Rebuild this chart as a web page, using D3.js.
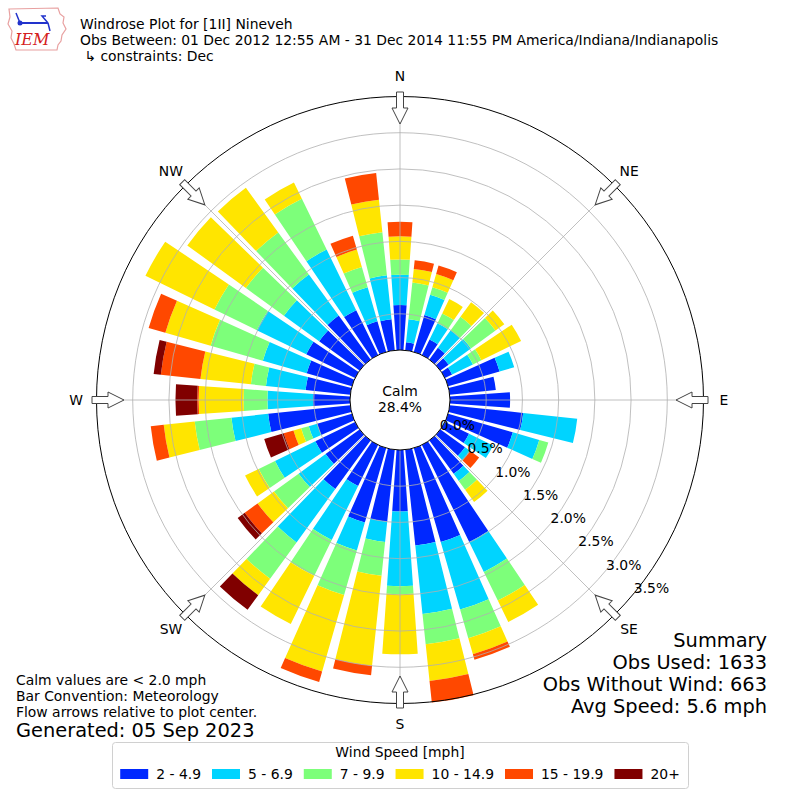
<!DOCTYPE html>
<html>
<head>
<meta charset="utf-8">
<script src="https://cdn.jsdelivr.net/npm/d3@7/dist/d3.min.js"></script>
<style>
  body { margin: 0; background: #fff; }
  text { font-family: "DejaVu Sans", sans-serif; fill: #000; }
</style>
</head>
<body>
<svg id="chart" width="800" height="800"></svg>
<script>
// wind directions (deg, meteorological) and frequency per speed bin (%)
const directions = d3.range(0, 360, 10);
const speedBins = ["2 - 4.9", "5 - 6.9", "7 - 9.9", "10 - 14.9", "15 - 19.9", "20+"];
const binColors = ["#0028ff", "#00d4ff", "#7dff7a", "#ffe500", "#ff4800", "#800000"];

const speed2to5   = [0.62, 0.11, 0.53, 0.24, 0.20, 0.14, 0.11, 0.74, 0.64, 0.83, 1.02, 0.93,
                     0.37, 0.42, 0.57, 1.49, 1.35, 1.33, 0.85, 1.00, 1.07, 0.63, 0.83, 0.58,
                     0.61, 0.50, 1.14, 0.51, 0.62, 0.65, 0.75, 0.69, 0.75, 0.69, 0.44, 0.43];
const speed5to7   = [0.42, 0.32, 0.29, 0.25, 0.30, 0.38, 0.32, 0.21, 0.00, 0.00, 0.75, 0.38,
                     0.37, 0.09, 0.12, 0.46, 0.97, 0.95, 1.03, 0.28, 0.40, 0.83, 0.91, 0.46,
                     0.62, 0.12, 0.51, 0.63, 0.55, 0.63, 0.76, 0.60, 0.70, 0.93, 0.49, 0.61];
const speed7to10  = [0.21, 0.51, 0.11, 0.15, 0.23, 0.42, 0.13, 0.00, 0.00, 0.00, 0.00, 0.13,
                     0.00, 0.00, 0.15, 0.44, 0.41, 0.42, 0.11, 0.47, 0.64, 0.55, 0.62, 0.42,
                     0.25, 0.11, 0.51, 0.33, 0.21, 0.75, 0.65, 0.65, 0.72, 0.78, 0.29, 0.60];
const speed10to15 = [0.32, 0.19, 0.19, 0.22, 0.25, 0.15, 0.61, 0.00, 0.00, 0.00, 0.00, 0.00,
                     0.00, 0.00, 0.21, 0.33, 0.23, 0.51, 0.83, 1.25, 1.10, 0.74, 0.28, 0.28,
                     0.21, 0.11, 0.43, 0.62, 0.70, 0.65, 1.06, 1.00, 0.76, 0.25, 0.25, 0.45];
const speed15to20 = [0.20, 0.12, 0.12, 0.00, 0.00, 0.00, 0.00, 0.00, 0.00, 0.00, 0.00, 0.00,
                     0.00, 0.15, 0.00, 0.00, 0.08, 0.30, 0.00, 0.13, 0.15, 0.00, 0.00, 0.22,
                     0.00, 0.14, 0.18, 0.02, 0.55, 0.24, 0.00, 0.00, 0.00, 0.00, 0.20, 0.37];
const speed20plus = [0.00, 0.00, 0.00, 0.00, 0.00, 0.00, 0.00, 0.00, 0.00, 0.00, 0.00, 0.00,
                     0.00, 0.00, 0.00, 0.00, 0.00, 0.00, 0.00, 0.00, 0.00, 0.00, 0.25, 0.12,
                     0.00, 0.28, 0.00, 0.30, 0.10, 0.00, 0.00, 0.00, 0.00, 0.00, 0.00, 0.00];

const rTicks = [0, 0.5, 1.0, 1.5, 2.0, 2.5, 3.0, 3.5];
const compass = [
  {label: "N", deg: 0}, {label: "NE", deg: 45}, {label: "E", deg: 90}, {label: "SE", deg: 135},
  {label: "S", deg: 180}, {label: "SW", deg: 225}, {label: "W", deg: 270}, {label: "NW", deg: 315}
];
const calmPct = "28.4%";
const headerLines = [
  "Windrose Plot for [1II] Nineveh",
  "Obs Between: 01 Dec 2012 12:55 AM - 31 Dec 2014 11:55 PM America/Indiana/Indianapolis",
  " \u21b3 constraints: Dec"
];
const noteLines = ["Calm values are < 2.0 mph", "Bar Convention: Meteorology", "Flow arrows relative to plot center."];
const generated = "Generated: 05 Sep 2023";
const summaryLines = ["Summary", "Obs Used: 1633", "Obs Without Wind: 663", "Avg Speed: 5.6 mph"];

const svg = d3.select("#chart");
const cx = 400, cy = 400;
const small = "13.9px", big = "19.4px";
const r = d3.scaleLinear().domain([0, 3.5]).range([50, 303.5]);
const ang = d3.scaleLinear().domain([0, 360]).range([0, 2 * Math.PI]);
const px = (deg, rad) => rad * Math.sin(ang(deg));
const py = (deg, rad) => -rad * Math.cos(ang(deg));

// stacked bars
const binArrays = [speed2to5, speed5to7, speed7to10, speed10to15, speed15to20, speed20plus];
const rows = directions.map((dir, i) => {
  const o = {dir: dir};
  binArrays.forEach((arr, k) => o["k" + k] = arr[i]);
  return o;
});
const series = d3.stack().keys(binArrays.map((a, k) => "k" + k))(rows);

const rose = svg.append("g").attr("transform", `translate(${cx},${cy})`);
const arc = d3.arc();

rose.selectAll("g.bin")
  .data(series)
  .join("g")
    .attr("class", "bin")
    .attr("fill", (d, i) => binColors[i])
  .selectAll("path")
  .data(d => d.filter(p => p[1] > p[0]))
  .join("path")
    .attr("d", p => arc({
      innerRadius: r(p[0]),
      outerRadius: r(p[1]),
      startAngle: ang(p.data.dir - 4),
      endAngle: ang(p.data.dir + 4)
    }));

// grid drawn over the bars, like matplotlib
rose.selectAll("line.spoke")
  .data(compass)
  .join("line")
    .attr("x1", 0).attr("y1", 0)
    .attr("x2", d => px(d.deg, r(3.5)))
    .attr("y2", d => py(d.deg, r(3.5)))
    .attr("stroke", "#b0b0b0")
    .attr("stroke-width", 0.8);

rose.selectAll("circle.grid")
  .data(rTicks.slice(1, -1))
  .join("circle")
    .attr("r", d => r(d))
    .attr("fill", "none")
    .attr("stroke", "#b0b0b0")
    .attr("stroke-width", 0.8);

rose.append("circle")
  .attr("r", r(3.5))
  .attr("fill", "none")
  .attr("stroke", "#000")
  .attr("stroke-width", 1);

rose.append("circle")
  .attr("r", r(0))
  .attr("fill", "#fff")
  .attr("stroke", "#000")
  .attr("stroke-width", 1);

rose.append("text").attr("x", 0).attr("y", -4).attr("text-anchor", "middle")
  .style("font-size", small).text("Calm");
rose.append("text").attr("x", 0).attr("y", 12).attr("text-anchor", "middle")
  .style("font-size", small).text(calmPct);

// radial tick labels along 130 deg
rose.selectAll("text.rlab")
  .data(rTicks)
  .join("text")
    .attr("x", d => px(130, r(d)) + 19)
    .attr("y", d => py(130, r(d)) - 7)
    .attr("dy", "0.35em")
    .attr("text-anchor", "middle")
    .style("font-size", small)
    .text(d => d.toFixed(1) + "%");

// flow arrows pointing to center
const arrowPath = "M-3.5,-308 L3.5,-308 L3.5,-292 L8,-292 L0,-276 L-8,-292 L-3.5,-292 Z";
rose.selectAll("path.arrow")
  .data(compass)
  .join("path")
    .attr("d", arrowPath)
    .attr("transform", d => `rotate(${d.deg})`)
    .attr("fill", "#fff")
    .attr("stroke", "#444")
    .attr("stroke-width", 1);

rose.selectAll("text.dir")
  .data(compass)
  .join("text")
    .attr("x", d => px(d.deg, 324))
    .attr("y", d => py(d.deg, 324))
    .attr("dy", "0.35em")
    .attr("text-anchor", "middle")
    .style("font-size", small)
    .text(d => d.label);

// header
svg.selectAll("text.head")
  .data(headerLines)
  .join("text")
    .attr("x", 80)
    .attr("y", (d, i) => 29 + i * 16)
    .style("font-size", small)
    .style("white-space", "pre")
    .text(d => d);

// notes bottom left
svg.selectAll("text.note")
  .data(noteLines)
  .join("text")
    .attr("x", 16)
    .attr("y", (d, i) => 685 + i * 16)
    .style("font-size", small)
    .text(d => d);
svg.append("text").attr("x", 16).attr("y", 737)
  .style("font-size", big).text(generated);

// summary bottom right
svg.selectAll("text.sum")
  .data(summaryLines)
  .join("text")
    .attr("x", 767)
    .attr("y", (d, i) => 647 + i * 22)
    .attr("text-anchor", "end")
    .style("font-size", big)
    .text(d => d);

// legend
const legend = svg.append("g");
legend.append("rect")
  .attr("x", 112.5).attr("y", 742.5).attr("width", 576).attr("height", 46)
  .attr("rx", 3)
  .attr("fill", "#fff").attr("stroke", "#d0d0d0");
legend.append("text").attr("x", 400).attr("y", 757).attr("text-anchor", "middle")
  .style("font-size", small).text("Wind Speed [mph]");
const items = legend.append("g");
let lx = 0;
speedBins.forEach((lab, i) => {
  const g = items.append("g").attr("transform", `translate(${lx},0)`);
  g.append("rect").attr("x", 0).attr("y", 769).attr("width", 28).attr("height", 10)
    .attr("fill", binColors[i]);
  const t = g.append("text").attr("x", 36).attr("y", 779)
    .style("font-size", small).text(lab);
  lx += 36 + t.node().getComputedTextLength() + 11;
});
items.attr("transform", `translate(${400 - (lx - 11) / 2},0)`);

// IEM logo (approximate)
const logo = svg.append("g").attr("transform", "translate(6,5)");
logo.append("path")
  .attr("d", "M3,4 L52,3 L54,9 L58,12 L57,18 L60,24 L56,30 L55,36 L52,40 L51,45 L10,45 L8,39 L5,33 L6,26 L2,19 L4,12 Z")
  .attr("fill", "none").attr("stroke", "#e8a0a0").attr("stroke-width", 1.2);
logo.append("line").attr("x1", 14).attr("y1", 18).attr("x2", 42).attr("y2", 18)
  .attr("stroke", "#2233cc").attr("stroke-width", 2);
logo.append("circle").attr("cx", 14).attr("cy", 18).attr("r", 2.5).attr("fill", "#2233cc");
logo.append("path").attr("d", "M14,18 L10,8 M42,18 L36,11 L40,11 M42,18 L44,26")
  .attr("fill", "none").attr("stroke", "#2233cc").attr("stroke-width", 1.5);
logo.append("text").attr("x", 9).attr("y", 40)
  .style("font-family", "'DejaVu Serif', serif").style("font-style", "italic")
  .style("font-size", "16px").style("fill", "#d42020").text("IEM");
</script>
</body>
</html>
